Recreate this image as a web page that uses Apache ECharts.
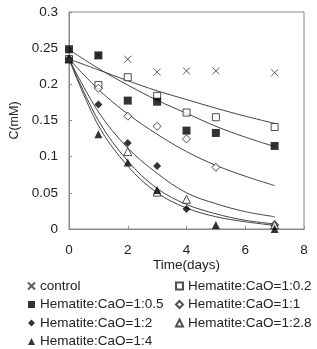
<!DOCTYPE html>
<html>
<head>
<meta charset="utf-8">
<script src="https://cdn.jsdelivr.net/npm/echarts@6/dist/echarts.min.js"></script>
<style>html,body{margin:0;padding:0;background:#fff}#c{width:317px;height:349px}</style>
</head>
<body>
<div id="c"></div>
<script>
// Measured days
var days = [0, 1, 2, 3, 4, 5, 7];
// Measured concentrations (mM), null = not shown
var control = [0.235, 0.240, 0.2347, 0.217, 0.2185, 0.2185, 0.216];
var ratio02 = [0.235, 0.199, 0.2098, 0.184, 0.161, 0.1545, 0.141];
var ratio05 = [0.2485, 0.240, 0.1775, 0.176, 0.136, 0.1328, 0.1148];
var ratio1  = [0.235, 0.1945, 0.156, 0.142, 0.1245, 0.0853, 0.006];
var ratio2  = [0.235, 0.172, 0.119, 0.087, 0.0277, null, 0.005];
var ratio28 = [0.235, null, 0.107, 0.051, 0.041, null, 0.006];
var ratio4  = [0.235, 0.131, 0.092, 0.054, null, 0.0055, 0.0];
// Fitted curves
var fitDays = [0, 1, 2, 3, 4, 5, 6, 7];
var fit02 = [0.235, 0.220, 0.205, 0.191, 0.179, 0.167, 0.156, 0.146];
var fit05 = [0.248, 0.222, 0.199, 0.178, 0.160, 0.142, 0.127, 0.114];
var fit1  = [0.235, 0.193, 0.159, 0.131, 0.107, 0.088, 0.073, 0.060];
var fit2  = [0.235, 0.162, 0.112, 0.077, 0.050, 0.035, 0.024, 0.017];
var fit28 = [0.235, 0.150, 0.094, 0.056, 0.034, 0.021, 0.012, 0.007];
var fit4  = [0.235, 0.143, 0.087, 0.050, 0.029, 0.017, 0.010, 0.005];
// Tick labels
var yTicks = ['0', '0.05', '0.1', '0.15', '0.2', '0.25', '0.3'];
var xTicks = ['0', '2', '4', '6', '8'];
var names = ['control', 'Hematite:CaO=1:0.2', 'Hematite:CaO=1:0.5', 'Hematite:CaO=1:1',
             'Hematite:CaO=1:2', 'Hematite:CaO=1:2.8', 'Hematite:CaO=1:4'];

function pairs(xs, ys) {
  var out = [];
  for (var i = 0; i < xs.length; i++) if (ys[i] !== null) out.push([xs[i], ys[i]]);
  return out;
}
var FONT = 'Liberation Sans, Arial, sans-serif';
var ink = '#222';
var crossPath = 'path://M0,0L10,10M10,0L0,10';

function scatter(name, vals, symbol, size, filled) {
  return {
    type: 'scatter', name: name, data: pairs(days, vals), symbol: symbol, symbolSize: size,
    z: 5,
    itemStyle: filled ? {color: '#000'} : {color: '#fff', borderColor: '#222', borderWidth: 1}
  };
}
function curve(vals) {
  return {
    type: 'line', data: pairs(fitDays, vals), smooth: 0.35, showSymbol: false, silent: true,
    lineStyle: {color: '#444', width: 1}, z: 3
  };
}
function legendCol(items, left) {
  return {data: items, orient: 'vertical', left: left, top: 279, padding: 0,
    itemWidth: 7, itemHeight: 7, itemGap: 4.5,
    textStyle: {fontFamily: FONT, fontSize: 13.5, color: ink}};
}

var chart = echarts.init(document.getElementById('c'), null, {renderer: 'canvas'});
chart.setOption({
  animation: false,
  backgroundColor: '#fff',
  grid: {left: 56, right: 13, top: 12, bottom: 120, show: true, borderColor: '#888', borderWidth: 1},
  xAxis: {
    type: 'value', min: 0, max: 8, interval: 2,
    name: 'Time(days)', nameLocation: 'middle', nameGap: 29, nameMoveOverlap: false,
    nameTextStyle: {fontFamily: FONT, fontSize: 13.5, color: ink},
    axisLine: {lineStyle: {color: '#888'}},
    axisTick: {inside: true, length: 3, lineStyle: {color: '#888'}},
    axisLabel: {fontFamily: FONT, fontSize: 13.5, color: ink, margin: 14,
      formatter: function (v) { return xTicks[v / 2]; }},
    splitLine: {show: false}
  },
  yAxis: {
    type: 'value', min: 0, max: 0.3, interval: 0.05,
    name: 'C(mM)', nameLocation: 'middle', nameGap: 48, nameMoveOverlap: false,
    nameTextStyle: {fontFamily: FONT, fontSize: 12.5, color: ink},
    axisLine: {show: true, lineStyle: {color: '#888'}},
    axisTick: {show: true, inside: true, length: 3, lineStyle: {color: '#888'}},
    axisLabel: {fontFamily: FONT, fontSize: 13.5, color: ink, margin: 11,
      formatter: function (v) { return yTicks[Math.round(v / 0.05)]; }},
    splitLine: {show: false}
  },
  legend: [
    legendCol([names[0], names[2], names[4], names[6]], 27),
    legendCol([names[1], names[3], names[5]], 175)
  ],
  series: [
    curve(fit02), curve(fit05), curve(fit1), curve(fit2), curve(fit28), curve(fit4),
    {type: 'scatter', name: names[0], data: pairs(days, control), symbol: crossPath, symbolSize: 7,
     z: 5, itemStyle: {color: 'transparent', borderColor: '#333', borderWidth: 1}},
    scatter(names[1], ratio02, 'rect', 7, false),
    scatter(names[2], ratio05, 'rect', 8, true),
    scatter(names[3], ratio1, 'diamond', 8, false),
    scatter(names[4], ratio2, 'diamond', 8, true),
    scatter(names[5], ratio28, 'triangle', 8, false),
    scatter(names[6], ratio4, 'triangle', 8, true)
  ]
});
</script>
</body>
</html>
